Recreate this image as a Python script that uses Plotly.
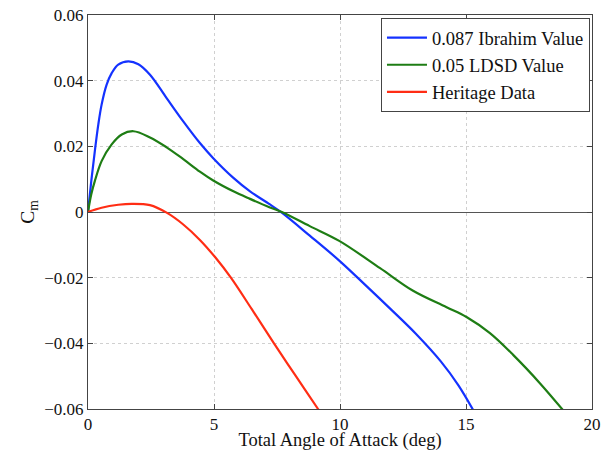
import plotly.graph_objects as go

# Pitching moment coefficient vs total angle of attack
ibrahim_aoa = [0, 0.13, 0.27, 0.41, 0.54, 0.74, 0.94, 1.2, 1.6, 2.0, 2.46, 3.12, 3.78,
               4.44, 4.97, 5.77, 6.43, 7.22, 7.69, 8.8, 9.97, 11.0, 12.0, 13.0, 14.0,
               14.7, 15.35]
ibrahim_cm = [0, 0.0094, 0.0185, 0.0267, 0.0327, 0.0388, 0.0423, 0.0449, 0.0459, 0.0450,
              0.0418, 0.0347, 0.0276, 0.0210, 0.0164, 0.0104, 0.0063, 0.0023, -0.0002,
              -0.0072, -0.0148, -0.0222, -0.0295, -0.0370, -0.0455, -0.0528, -0.0612]

ldsd_aoa = [0, 0.13, 0.27, 0.54, 0.94, 1.34, 1.8, 2.46, 3.12, 3.78, 4.44, 4.97, 5.77,
            6.43, 7.22, 7.69, 8.8, 9.97, 11.59, 12.9, 14.23, 15.02, 15.95, 16.88, 17.94, 18.9]
ldsd_cm = [0, 0.0054, 0.0094, 0.0155, 0.0206, 0.0236, 0.0246, 0.0227, 0.0197, 0.0161,
           0.0123, 0.0096, 0.0063, 0.0040, 0.0014, 0.0, -0.0043, -0.0088, -0.0171,
           -0.024, -0.029, -0.032, -0.0369, -0.0436, -0.0522, -0.0608]

heritage_aoa = [0, 0.54, 1.2, 1.73, 2.46, 3.12, 3.78, 4.44, 5.05, 5.67, 6.5, 7.38, 8.25,
                9.13, 9.3]
heritage_cm = [0, 0.0013, 0.0022, 0.0025, 0.0021, -0.0002, -0.0038, -0.0085, -0.0138,
               -0.020, -0.0296, -0.040, -0.050, -0.060, -0.062]

series = [
    ("0.087 Ibrahim Value", ibrahim_aoa, ibrahim_cm, "#1432ff"),
    ("0.05 LDSD Value", ldsd_aoa, ldsd_cm, "#1e7d14"),
    ("Heritage Data", heritage_aoa, heritage_cm, "#ff2d14"),
]

x_ticks = [0, 5, 10, 15, 20]
y_ticks = [-0.06, -0.04, -0.02, 0, 0.02, 0.04, 0.06]
y_tick_labels = ["\u22120.06", "\u22120.04", "\u22120.02", "0", "0.02", "0.04", "0.06"]

font_family = "Liberation Serif"

fig = go.Figure()
for name, xs, ys, color in series:
    fig.add_trace(go.Scatter(
        x=xs, y=ys, name=name, mode="lines",
        line=dict(color=color, width=2.2, shape="spline", smoothing=1.0),
    ))

axis_common = dict(
    showline=True, linecolor="#444444", linewidth=1, mirror="ticks",
    ticks="inside", ticklen=5, tickcolor="#444444",
    showgrid=True, gridcolor="#d0d0d0", griddash="dot", gridwidth=1,
    tickfont=dict(family=font_family, size=17, color="#111111"),
    automargin=False,
)

fig.update_xaxes(
    range=[0, 20], tickvals=x_ticks, zeroline=False,
    title=dict(text="Total Angle of Attack (deg)", standoff=4,
               font=dict(family=font_family, size=18.5, color="#111111")),
    **axis_common,
)
fig.update_yaxes(
    range=[-0.06, 0.06], tickvals=y_ticks, ticktext=y_tick_labels,
    zeroline=True, zerolinecolor="#555555", zerolinewidth=1,
    title=dict(text="C<sub>m</sub>", standoff=4,
               font=dict(family=font_family, size=19.5, color="#111111")),
    **axis_common,
)

fig.update_layout(
    width=608, height=451,
    margin=dict(l=88, r=16, t=15, b=42),
    plot_bgcolor="white", paper_bgcolor="white",
    font=dict(family=font_family, color="#111111"),
    legend=dict(
        x=0.996, y=0.992, xanchor="right", yanchor="top",
        bgcolor="white", bordercolor="#444444", borderwidth=1,
        font=dict(family=font_family, size=18.5, color="#111111"),
        tracegroupgap=0, itemwidth=40,
    ),
)

fig.write_html("out.html")
